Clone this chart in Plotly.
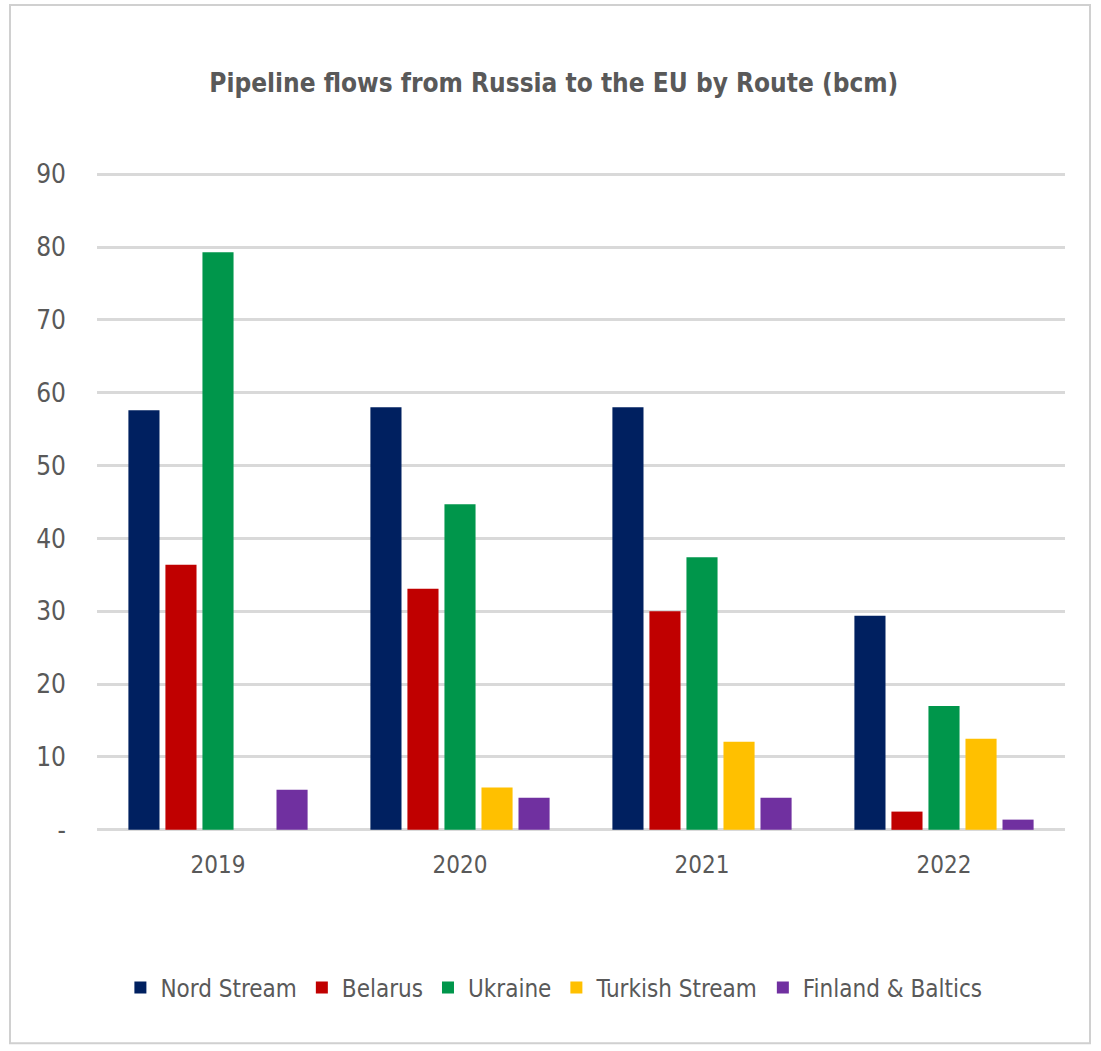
import plotly.graph_objects as go

years = ["2019", "2020", "2021", "2022"]
nord_stream = [57.6, 58.0, 58.0, 29.4]
belarus = [36.4, 33.1, 30.0, 2.5]
ukraine = [79.3, 44.7, 37.4, 17.0]
turkish_stream = [0, 5.8, 12.1, 12.5]
finland_baltics = [5.5, 4.4, 4.4, 1.4]

series = [
    ("Nord Stream", nord_stream, "#002060"),
    ("Belarus", belarus, "#C00000"),
    ("Ukraine", ukraine, "#00964B"),
    ("Turkish Stream", turkish_stream, "#FFC000"),
    ("Finland & Baltics", finland_baltics, "#7030A0"),
]

FONT = "DejaVu Sans Condensed, Liberation Sans Narrow, Roboto, sans-serif"
GRAY = "#595959"

fig = go.Figure()
for name, vals, col in series:
    fig.add_trace(go.Bar(x=years, y=vals, name=name, marker_color=col,
                         marker_line_width=0))

W, H = 1101, 1051
L, R, T, B = 97, 36, 174, 221
pw, ph = W - L - R, H - T - B

def px(x):
    return (x - L) / pw

def py(y):
    return (H - B - y) / ph

fig.update_layout(
    width=W, height=H,
    margin=dict(l=L, r=R, t=T - 2, b=B - 2),
    paper_bgcolor="white", plot_bgcolor="white",
    barmode="group", bargap=0.235, bargroupgap=0.16,
    title=dict(text="<b>Pipeline flows from Russia to the EU by Route (bcm)</b>",
               x=0.503, xanchor="center", y=1 - 83 / H, yanchor="middle",
               font=dict(family=FONT, size=26, color=GRAY)),
    font=dict(family=FONT, color=GRAY),
    xaxis=dict(showgrid=False, showline=False, ticks="",
               tickfont=dict(size=24, color=GRAY), ticklabelstandoff=16),
    yaxis=dict(range=[-0.3, 90.3], showgrid=True, gridcolor="#D9D9D9",
               gridwidth=3, zeroline=False, showline=False, ticks="",
               tickvals=[0, 10, 20, 30, 40, 50, 60, 70, 80, 90],
               ticktext=["-", "10", "20", "30", "40", "50", "60", "70", "80", "90"],
               tickfont=dict(size=26, color=GRAY), ticklabelstandoff=30),
    legend=dict(orientation="h", x=0.472, xanchor="center", y=py(985), yanchor="middle",
                font=dict(size=24, color=GRAY), itemwidth=30,
                traceorder="normal"),
    showlegend=True,
)

fig.add_shape(type="rect", xref="paper", yref="paper",
              x0=px(10), x1=px(1090), y0=py(1040), y1=py(8),
              line=dict(color="#D0D0D0", width=2), fillcolor="rgba(0,0,0,0)",
              layer="below")

fig.write_html("out.html")
